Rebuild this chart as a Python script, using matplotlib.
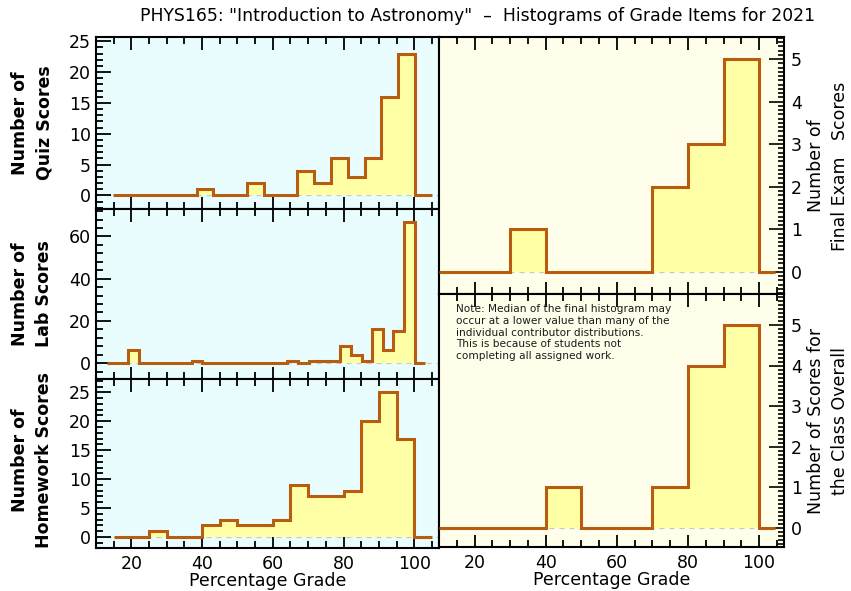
import numpy as np
import matplotlib.pyplot as plt
from matplotlib.ticker import MultipleLocator

# quiz: uniform bins, first lower edge and width
quiz_start, quiz_width = 14.7, 4.75
quiz_counts = [0, 0, 0, 0, 0, 1, 0, 0, 2, 0, 0, 4, 2, 6, 3, 6, 16, 23, 0]

lab_start, lab_width = 13.1, 3.0
lab_counts = [0, 0, 6, 0, 0, 0, 0, 0, 1, 0, 0, 0, 0, 0, 0, 0, 0, 1, 0, 1,
              1, 1, 8, 4, 1, 16, 6, 15, 67, 0]

hw_start, hw_width = 15.0, 5.0
hw_counts = [0, 0, 1, 0, 0, 2, 3, 2, 2, 3, 9, 7, 7, 8, 20, 25, 17, 0]

final_start, final_width = 10.0, 10.0
final_counts = [0, 0, 1, 0, 0, 0, 2, 3, 5, 0]

overall_start, overall_width = 10.0, 10.0
overall_counts = [0, 0, 0, 1, 0, 0, 1, 4, 5, 0]

xticks = [20, 40, 60, 80, 100]

title = 'PHYS165: "Introduction to Astronomy"  \u2013  Histograms of Grade Items for 2021'
note = ("Note: Median of the final histogram may\n"
        "occur at a lower value than many of the\n"
        "individual contributor distributions.\n"
        "This is because of students not\n"
        "completing all assigned work.")

LINE = '#b85c10'
FILL = '#ffffa6'
CYAN = '#e9fdff'
CREAM = '#fffeea'

plt.rcParams['font.family'] = ['DejaVu Sans']
W, H = 851, 591
fig = plt.figure(figsize=(W / 100, H / 100), dpi=100)


def box(x0, y0, x1, y1):
    return [x0 / W, 1 - y1 / H, (x1 - x0) / W, (y1 - y0) / H]


def hist(ax, start, width, counts, xend=None):
    counts = np.array(counts, dtype=float)
    edges = start + width * np.arange(len(counts) + 1)
    if xend is not None:
        edges[-1] = min(edges[-1], xend)
    ax.axhline(0, color='#c8c8c8', lw=0.9, ls=(0, (4, 4)), zorder=1)
    ax.stairs(counts, edges, fill=True, color=FILL, zorder=2)
    ax.stairs(counts, edges, color=LINE, lw=2.2, zorder=3, baseline=None)
    ax.set_xlim(10, 107)
    ax.xaxis.set_major_locator(MultipleLocator(20))
    ax.xaxis.set_minor_locator(MultipleLocator(5))
    ax.tick_params(axis='x', which='both', direction='in', top=True,
                   bottom=True, width=1.3)
    ax.tick_params(axis='x', which='major', length=9)
    ax.tick_params(axis='x', which='minor', length=5)
    for s in ax.spines.values():
        s.set_linewidth(1.5)


def bottom_axis(ax, last):
    if last:
        ax.set_xticks(xticks)
        ax.tick_params(axis='x', labelsize=12.5, pad=5)
        ax.set_xlabel('Percentage Grade', fontsize=12.5, labelpad=-1)
    else:
        ax.tick_params(axis='x', labelbottom=False)


def left_panel(rect, start, width, counts, ylim, major, minor, label, ly,
               last=False):
    ax = fig.add_axes(rect)
    ax.set_facecolor(CYAN)
    hist(ax, start, width, counts)
    ax.set_ylim(*ylim)
    ax.yaxis.set_major_locator(MultipleLocator(major))
    ax.yaxis.set_minor_locator(MultipleLocator(minor))
    ax.tick_params(axis='y', which='both', direction='in', width=1.3,
                   labelsize=12.5)
    ax.tick_params(axis='y', which='major', length=11)
    ax.tick_params(axis='y', which='minor', length=5)
    fig.text(32 / W, 1 - ly / H, label, rotation=90, ha='center',
             va='center', fontsize=12.5, fontweight='bold', linespacing=1.45)
    bottom_axis(ax, last)
    return ax


left_panel(box(96, 37, 439, 209), quiz_start, quiz_width, quiz_counts,
           (-2.2, 25.7), 5, 1, 'Number of\nQuiz Scores', 123)
left_panel(box(96, 209, 439, 379), lab_start, lab_width, lab_counts,
           (-7.5, 73), 20, 4, 'Number of\nLab Scores', 294)
left_panel(box(96, 379, 439, 548), hw_start, hw_width, hw_counts,
           (-1.9, 27.3), 5, 1, 'Number of\nHomework Scores', 460, last=True)


def right_panel(rect, start, width, counts, ylim, label, ly, last=False):
    ax = fig.add_axes(rect)
    ax.set_facecolor(CREAM)
    hist(ax, start, width, counts, xend=104.5)
    ax.set_ylim(*ylim)
    ax.yaxis.tick_right()
    ax.yaxis.set_major_locator(MultipleLocator(1))
    ax.yaxis.set_minor_locator(MultipleLocator(0.1))
    ax.tick_params(axis='y', which='both', direction='in', left=False,
                   right=True, width=1.2, labelsize=12.5, pad=5)
    ax.tick_params(axis='y', which='major', length=11)
    ax.tick_params(axis='y', which='minor', length=4)
    fig.text(828 / W, 1 - ly / H, label, rotation=90, ha='center',
             va='center', fontsize=12.5, linespacing=1.45)
    bottom_axis(ax, last)
    return ax


right_panel(box(439, 37, 784, 294), final_start, final_width, final_counts,
            (-0.52, 5.52), 'Number of\nFinal Exam   Scores', 166)
ax_o = right_panel(box(439, 294, 784, 547), overall_start, overall_width,
                   overall_counts, (-0.47, 5.77),
                   'Number of Scores for\nthe Class Overall', 421, last=True)
ax_o.text(0.05, 0.96, note, transform=ax_o.transAxes, fontsize=7.6,
          va='top', ha='left', linespacing=1.22, color='#1a1a1a')

fig.text(478 / W, 1 - 16 / H, title, ha='center', va='center', fontsize=12.4)

fig.savefig('out.png', dpi=100)
